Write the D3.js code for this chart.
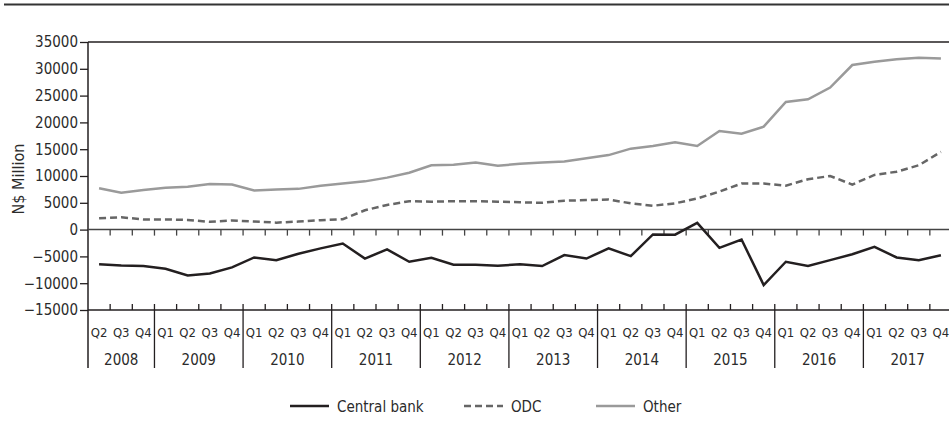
<!DOCTYPE html>
<html>
<head>
<meta charset="utf-8">
<script src="https://cdn.jsdelivr.net/npm/d3@7"></script>
<style>
  body { margin: 0; background: #fff; }
  text { font-family: "DejaVu Sans", sans-serif; font-stretch: condensed; fill: #2b2b2b; }
</style>
</head>
<body>
<div id="chart"></div>
<script>

/*------Data: quarterly values, N$ Million, 2008 Q2 - 2017 Q4------*/

var years = ["2008", "2009", "2010", "2011", "2012", "2013", "2014", "2015", "2016", "2017"];
var quarters = ["Q1", "Q2", "Q3", "Q4"];

var centralBank = [-6450, -6700, -6800, -7300, -8550, -8200, -7050,
  -5200, -5700, -4500, -3500,
  -2600, -5400, -3700, -6000,
  -5250, -6550, -6550, -6750,
  -6450, -6800, -4750, -5400,
  -3500, -4950, -900, -950,
  1250, -3400, -1850, -10350,
  -6000, -6800, -5700, -4600,
  -3200, -5200, -5700, -4800];

var odc = [2100, 2300, 1900, 1900, 1800, 1450, 1700,
  1500, 1300, 1500, 1750,
  1950, 3600, 4600, 5300,
  5200, 5300, 5300, 5200,
  5100, 5000, 5400, 5500,
  5600, 4900, 4450, 4900,
  5800, 7100, 8600, 8600,
  8200, 9400, 10000, 8400,
  10200, 10800, 12000, 14500];

var other = [7700, 6900, 7400, 7800, 8000, 8500, 8400,
  7300, 7500, 7600, 8200,
  8600, 9000, 9700, 10600,
  12000, 12100, 12500, 11900,
  12300, 12500, 12700, 13300,
  13900, 15100, 15600, 16300,
  15600, 18400, 17900, 19200,
  23800, 24300, 26500, 30700,
  31300, 31800, 32050, 31900];

var yTicks = [-15000, -10000, -5000, 0, 5000, 10000, 15000, 20000, 25000, 30000, 35000];

// quarter keys, starting at 2008 Q2
var periods = [];
years.forEach(function(y) {
  quarters.forEach(function(q) {
    if (!(y == "2008" && q == "Q1")) periods.push({year: y, q: q, key: y + q});
  });
});

var series = [
  {name: "Central bank", values: centralBank, color: "#231f20", dash: null},
  {name: "ODC", values: odc, color: "#666666", dash: "7,4"},
  {name: "Other", values: other, color: "#9a9a9a", dash: null}
];

/*------Canvas------*/

var width = 949, height = 445;
var svg = d3.select("#chart").append("svg")
  .attr("width", width)
  .attr("height", height);

var plotLeft = 88, plotRight = 952, plotTop = 42, plotBottom = 310, sepBottom = 368;

var x = d3.scaleBand()
  .domain(periods.map(function(d) { return d.key; }))
  .range([plotLeft, plotRight]);

var y = d3.scaleLinear()
  .domain([-15000, 35000])
  .range([plotBottom, plotTop]);

// top rule
svg.append("line")
  .attr("x1", 4).attr("x2", width)
  .attr("y1", 4.5).attr("y2", 4.5)
  .attr("stroke", "#333").attr("stroke-width", 2);

/*------Y axis------*/

var yAxis = svg.append("g")
  .attr("transform", "translate(" + plotLeft + ",0)")
  .call(d3.axisLeft(y).tickValues(yTicks).tickSize(8).tickPadding(2).tickFormat(d3.format("d")));

yAxis.select(".domain").remove();
yAxis.selectAll(".tick line").attr("stroke", "#231f20").attr("stroke-width", 1.3);
yAxis.selectAll(".tick text")
  .style("font-size", "15px")
  .attr("fill", "#2b2b2b");

svg.append("line")
  .attr("x1", plotLeft).attr("x2", plotLeft)
  .attr("y1", plotTop).attr("y2", sepBottom)
  .attr("stroke", "#231f20").attr("stroke-width", 1.5);

svg.append("text")
  .attr("transform", "translate(24," + ((plotTop + plotBottom) / 2 + 3) + ") rotate(-90)")
  .attr("text-anchor", "middle")
  .style("font-size", "16px")
  .text("N$ Million");

/*------Frame lines: top, zero and bottom------*/

svg.append("line")
  .attr("x1", plotLeft).attr("x2", width)
  .attr("y1", y(35000)).attr("y2", y(35000))
  .attr("stroke", "#231f20").attr("stroke-width", 1.5);

svg.append("line")
  .attr("x1", plotLeft).attr("x2", width)
  .attr("y1", y(0)).attr("y2", y(0))
  .attr("stroke", "#444").attr("stroke-width", 1.5);

svg.append("line")
  .attr("x1", plotLeft).attr("x2", width)
  .attr("y1", y(-15000)).attr("y2", y(-15000))
  .attr("stroke", "#231f20").attr("stroke-width", 1.5);

/*------X axis: quarter ticks, labels and year separators------*/

var inner = periods.filter(function(d, i) { return i > 0; });

// small ticks at the zero line (pointing down)
svg.selectAll(".zeroTick")
  .data(inner)
  .enter().append("line")
  .attr("class", "zeroTick")
  .attr("x1", function(d) { return x(d.key); })
  .attr("x2", function(d) { return x(d.key); })
  .attr("y1", y(0)).attr("y2", y(0) + 6)
  .attr("stroke", "#444").attr("stroke-width", 1.3);

// ticks at the bottom (up), longer at year starts
svg.selectAll(".qTick")
  .data(inner)
  .enter().append("line")
  .attr("class", "qTick")
  .attr("x1", function(d) { return x(d.key); })
  .attr("x2", function(d) { return x(d.key); })
  .attr("y1", function(d) { return d.q == "Q1" ? sepBottom : plotBottom; })
  .attr("y2", plotBottom - 6)
  .attr("stroke", "#231f20").attr("stroke-width", 1.3);

svg.selectAll(".qLabel")
  .data(periods)
  .enter().append("text")
  .attr("class", "qLabel")
  .attr("x", function(d) { return x(d.key) + x.bandwidth() / 2; })
  .attr("y", 337)
  .attr("text-anchor", "middle")
  .style("font-size", "13px")
  .text(function(d) { return d.q; });

svg.selectAll(".yearLabel")
  .data(years)
  .enter().append("text")
  .attr("class", "yearLabel")
  .attr("x", function(yr) {
    var ps = periods.filter(function(d) { return d.year == yr; });
    var x0 = x(ps[0].key), x1 = x(ps[ps.length - 1].key) + x.bandwidth();
    return (x0 + x1) / 2;
  })
  .attr("y", 365)
  .attr("text-anchor", "middle")
  .style("font-size", "15px")
  .text(function(d) { return d; });

/*------Lines------*/

var line = d3.line()
  .x(function(d, i) { return x(periods[i].key) + x.bandwidth() / 2; })
  .y(function(d) { return y(d); });

svg.selectAll(".series")
  .data(series.slice().reverse())
  .enter().append("path")
  .attr("class", "series")
  .attr("d", function(s) { return line(s.values); })
  .attr("fill", "none")
  .attr("stroke", function(s) { return s.color; })
  .attr("stroke-width", 2.5)
  .attr("stroke-dasharray", function(s) { return s.dash; });

/*------Legend------*/

var legendX = [290, 464, 596];
var legend = svg.selectAll(".legend")
  .data(series)
  .enter().append("g")
  .attr("class", "legend")
  .attr("transform", function(d, i) { return "translate(" + legendX[i] + ",406)"; });

legend.append("line")
  .attr("x1", 0).attr("x2", 39)
  .attr("stroke", function(d) { return d.color; })
  .attr("stroke-width", 2.5)
  .attr("stroke-dasharray", function(d) { return d.dash; });

legend.append("text")
  .attr("x", 47)
  .attr("y", 5.5)
  .style("font-size", "15px")
  .text(function(d) { return d.name; });

</script>
</body>
</html>
